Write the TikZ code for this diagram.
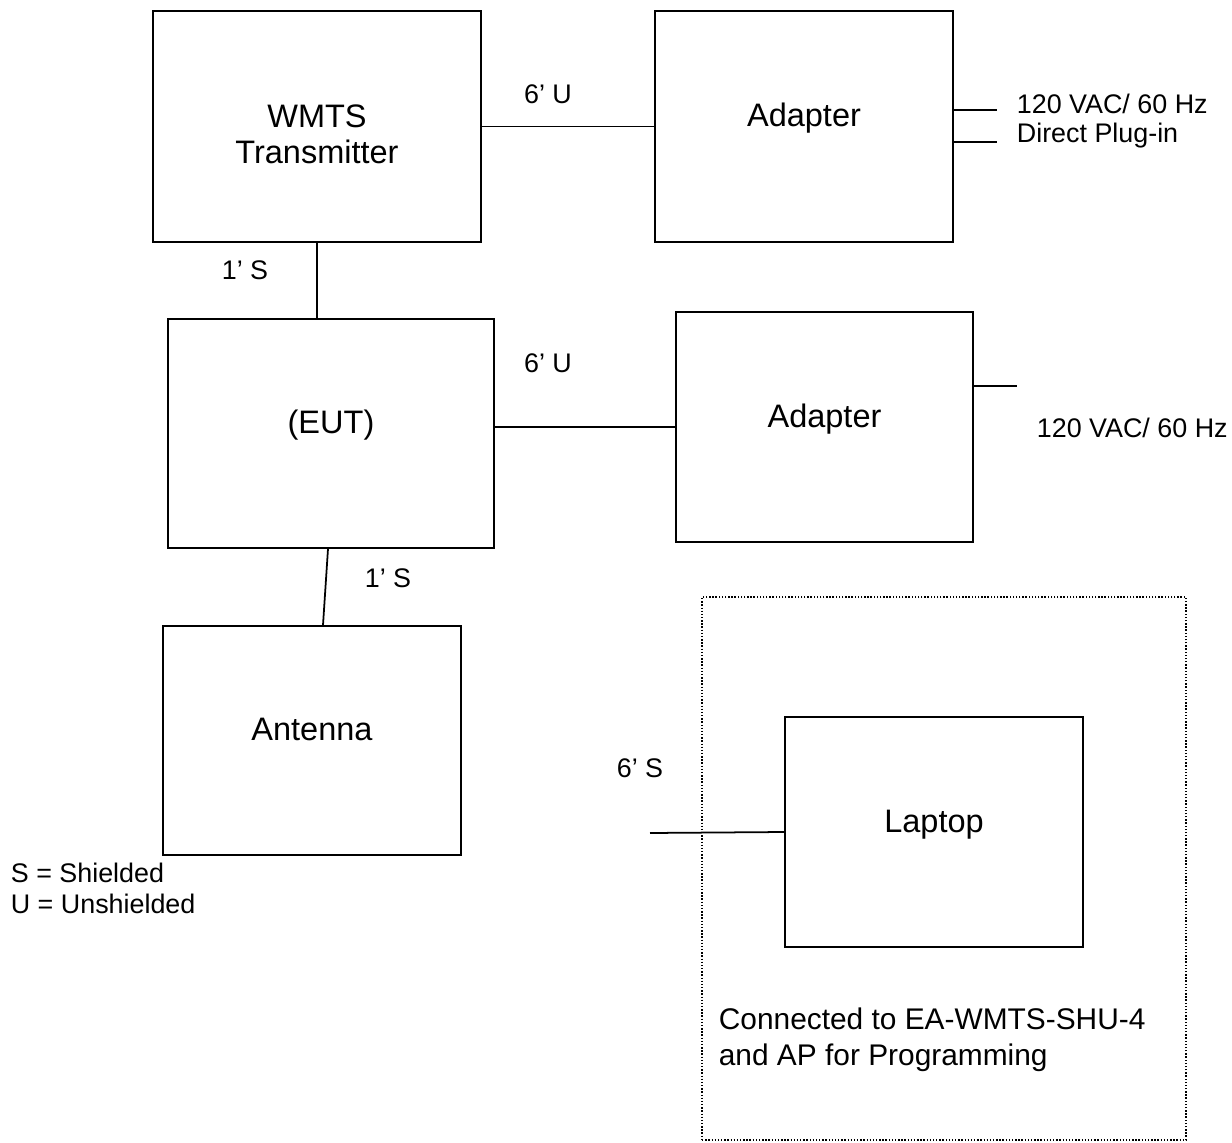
\documentclass[tikz,border=0pt]{standalone}
\usepackage{fontspec}
\setmainfont{Liberation Sans}
\usepackage{tikz}
\usetikzlibrary{positioning}

\begin{document}
\begin{tikzpicture}[x=0.02cm, y=-0.02cm, line width=1pt, every node/.style={font=\fontsize{17}{20.4}\selectfont}]
      \tikzstyle{unitbox}=[draw, line width=1pt, fill=white, align=center, font=\fontsize{18.5}{20.5}\selectfont, text height=0.3cm, text depth=0.3cm, minimum width=5.96cm, minimum height=4.6cm]
      \tikzstyle{cablelbl}=[font=\fontsize{15.3}{17.6}\selectfont, inner sep=0pt]
      \tikzstyle{powerlbl}=[cablelbl, anchor=west, align=left]
      \useasboundingbox (0,0) rectangle (1232,1143);
      % programming area
      \node[draw, line width=0.8pt, dash pattern=on 0.8pt off 1pt, minimum width=9.68cm, minimum height=10.86cm] (prog) at (944,868.5) {};
      % units
      \node[unitbox, minimum width=6.56cm, minimum height=4.62cm, text height=1.78cm] (wmts) at (317,126.5) {WMTS\\Transmitter};
      \node[unitbox, minimum height=4.62cm] (adapt1) at (804,126.5) {Adapter};
      \node[unitbox, minimum width=6.52cm, minimum height=4.58cm] (eut) at (331,433.5) {(EUT)};
      \node[unitbox, minimum width=5.94cm] (adapt2) at (824.5,427) {Adapter};
      \node[unitbox, minimum height=4.58cm] (ant) at (312,740.5) {Antenna};
      \node[unitbox] (laptop) at (934,832) {Laptop};
      % mains
      \coordinate (plug1) at (997,110);
      \coordinate (plug2) at (997,142);
      \coordinate (plug3) at (1017,386);
      \coordinate (lead) at (650,833);
      \node[powerlbl] (vac1) at (1016,104) {120 VAC/ 60 Hz};
      \node[powerlbl] (direct) at (1016,136) {Direct Plug-in};
      \node[powerlbl] (vac2) at (1036,428) {120 VAC/ 60 Hz};
      % cables
      \draw (wmts.east) -- (adapt1.west);
      \draw (wmts.south) -- (wmts.south |- eut.north);
      \draw (adapt2.west -| eut.east) -- (adapt2.west);
      \draw ([xshift=-0.06cm]eut.south) -- ([xshift=0.22cm]ant.north);
      \draw (adapt1.east |- plug1) -- (plug1);
      \draw (adapt1.east |- plug2) -- (plug2);
      \draw (adapt2.east |- plug3) -- (plug3);
      \draw (lead) -- (laptop.west);
      % cable labels
      \node[cablelbl] (l1) at (548,94) {6’ U};
      \node[cablelbl] (l2) at (245,270) {1’ S};
      \node[cablelbl] (l3) at (548,363) {6’ U};
      \node[cablelbl] (l4) at (388,578) {1’ S};
      \node[cablelbl] (l5) at (640,768) {6’ S};
      \node[powerlbl] (legend) at (10,888.5) {S = Shielded\\U = Unshielded};
      \node[anchor=west, align=left, inner sep=0pt] (note) at (718,1039.5) {Connected to EA-WMTS-SHU-4\\and AP for Programming};
    \end{tikzpicture}
\end{document}
